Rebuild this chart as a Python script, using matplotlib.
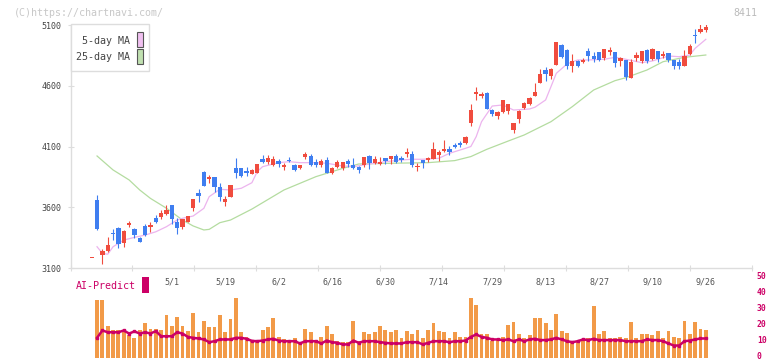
import numpy as np
import matplotlib
matplotlib.use("Agg")
import matplotlib.pyplot as plt
from matplotlib.patches import Rectangle

plt.rcParams['font.family'] = ['DejaVu Sans Mono']

# daily candles, 2025/4/9 .. 9/26
opens = [3182, 3660, 3207, 3240, 3385, 3430, 3305, 3450, 3420, 3350,
         3446, 3437, 3512, 3520, 3545, 3618, 3479, 3435, 3479, 3596,
         3720, 3893, 3833, 3849, 3767, 3645, 3687, 3920, 3923, 3898,
         3876, 3880, 3997, 3972, 3950, 3978, 3929, 3982, 3948, 3926,
         4013, 4022, 3970, 3948, 3989, 3880, 3929, 3926, 3984, 3948,
         3934, 3945, 4022, 3962, 3956, 4005, 3997, 4020, 4005, 4035,
         4038, 3929, 3989, 3989, 3997, 4030, 4063, 4080, 4112, 4131,
         4129, 4296, 4529, 4516, 4540, 4400, 4354, 4384, 4395, 4239,
         4329, 4420, 4450, 4516, 4625, 4727, 4683, 4774, 4935, 4894,
         4765, 4806, 4795, 4886, 4845, 4875, 4831, 4878, 4878, 4806,
         4812, 4664, 4831, 4806, 4894, 4820, 4886, 4847, 4869, 4815,
         4798, 4765, 4864, 5020, 5040, 5061]
highs = [3182, 3700, 3260, 3355, 3420, 3440, 3410, 3490, 3430, 3355,
         3460, 3478, 3540, 3578, 3618, 3620, 3508, 3505, 3530, 3670,
         3750, 3900, 3868, 3850, 3802, 3695, 3785, 4005, 3925, 3930,
         3915, 3958, 4027, 4030, 4020, 3995, 3967, 4010, 3955, 3950,
         4055, 4035, 3997, 4000, 4017, 3928, 3990, 3975, 3995, 4005,
         3940, 4015, 4033, 4020, 4010, 4008, 4022, 4040, 4020, 4090,
         4063, 3962, 3990, 4010, 4140, 4071, 4154, 4104, 4125, 4145,
         4184, 4450, 4593, 4551, 4549, 4406, 4392, 4483, 4452, 4294,
         4400, 4466, 4508, 4625, 4741, 4754, 4749, 4962, 4941, 4900,
         4859, 4815, 4831, 4908, 4875, 4876, 4903, 4916, 4880, 4834,
         4815, 4818, 4878, 4885, 4900, 4913, 4888, 4886, 4870, 4816,
         4822, 4894, 4944, 5067, 5106, 5108]
lows = [3182, 3410, 3130, 3235, 3330, 3265, 3275, 3435, 3350, 3310,
        3365, 3400, 3470, 3506, 3540, 3462, 3380, 3425, 3475, 3572,
        3646, 3775, 3797, 3728, 3652, 3613, 3685, 3838, 3845, 3857,
        3870, 3878, 3964, 3960, 3937, 3935, 3907, 3970, 3900, 3917,
        3997, 3940, 3930, 3935, 3878, 3872, 3920, 3910, 3935, 3915,
        3880, 3935, 3918, 3955, 3948, 3955, 3955, 3965, 3970, 4017,
        3934, 3901, 3923, 3975, 3995, 3984, 4058, 4030, 4085, 4100,
        4123, 4272, 4483, 4497, 4410, 4354, 4329, 4376, 4370, 4214,
        4296, 4412, 4444, 4516, 4620, 4639, 4658, 4772, 4831, 4738,
        4716, 4757, 4785, 4806, 4798, 4806, 4812, 4856, 4757, 4765,
        4650, 4660, 4806, 4785, 4785, 4812, 4798, 4826, 4798, 4735,
        4738, 4763, 4856, 4954, 5032, 5040]
closes = [3182, 3420, 3240, 3290, 3380, 3295, 3405, 3470, 3375, 3318,
          3372, 3455, 3482, 3553, 3580, 3503, 3430, 3503, 3528, 3668,
          3695, 3778, 3852, 3764, 3687, 3668, 3783, 3885, 3860, 3885,
          3907, 3956, 3972, 4005, 3995, 3956, 3948, 3978, 3907, 3948,
          4035, 3950, 3945, 3984, 3880, 3926, 3970, 3972, 3953, 3923,
          3910, 4013, 3962, 3997, 3975, 3980, 4020, 3970, 3990, 4055,
          3948, 3942, 3967, 4003, 4080, 4058, 4080, 4052, 4094, 4112,
          4178, 4400, 4549, 4532, 4412, 4365, 4384, 4483, 4450, 4294,
          4392, 4458, 4499, 4549, 4697, 4700, 4741, 4960, 4837, 4765,
          4806, 4765, 4812, 4847, 4820, 4812, 4902, 4894, 4790, 4826,
          4670, 4795, 4856, 4883, 4806, 4902, 4820, 4864, 4815, 4765,
          4760, 4845, 4927, 5007, 5067, 5086]

ma5_idx = [1, 2, 3, 4, 6, 8, 10, 12, 14, 16, 17, 19, 21, 22, 24, 26, 28, 30,
           31, 32, 35, 37, 39, 42, 44, 47, 49, 52, 55, 58, 60, 62, 65, 67, 70,
           71, 72, 73, 75, 77, 79, 82, 83, 85, 86, 87, 89, 91, 93, 96, 98, 100,
           103, 105, 108, 110, 112, 113, 115]
ma5_val = [3275, 3221, 3213, 3275, 3330, 3352, 3371, 3398, 3440, 3495, 3509,
           3528, 3591, 3687, 3748, 3742, 3756, 3802, 3893, 3934, 3967, 3975,
           3967, 3967, 3962, 3940, 3934, 3956, 3975, 3989, 3995, 3995, 4003,
           4044, 4085, 4100, 4181, 4304, 4433, 4442, 4400, 4409, 4423, 4483,
           4592, 4702, 4779, 4812, 4812, 4818, 4834, 4818, 4790, 4804, 4845,
           4839, 4853, 4908, 4982]

ma25_idx = [1, 4, 7, 9, 11, 14, 17, 19, 21, 22, 24, 26, 30, 36, 42, 47, 50,
            56, 63, 68, 71, 74, 78, 81, 86, 90, 94, 98, 100, 104, 107, 111, 115]
ma25_val = [4022, 3907, 3825, 3742, 3673, 3592, 3495, 3446, 3413, 3418, 3473,
            3495, 3585, 3742, 3852, 3920, 3956, 3962, 3967, 3984, 4017, 4077,
            4145, 4195, 4304, 4428, 4565, 4642, 4666, 4730, 4798, 4834, 4853]

# lower panel, from candle 1 on
bars = [36.1, 36.1, 20.3, 17.4, 17.4, 17.2, 14.1, 12.2, 17.4, 21.6,
        18.4, 18.4, 17.8, 26.6, 20.3, 25.9, 19.7, 16.8, 28.0, 16.1,
        23.4, 19.1, 19.1, 26.6, 16.1, 24.1, 37.8, 16.1, 13.4, 10.9,
        10.9, 17.4, 19.1, 24.7, 13.4, 11.6, 10.9, 12.2, 9.7, 18.4,
        16.1, 9.7, 13.4, 20.3, 15.3, 10.9, 10.3, 9.7, 23.4, 10.9,
        16.1, 15.3, 16.1, 19.7, 17.4, 16.1, 17.8, 12.8, 16.8, 15.3,
        17.4, 12.8, 17.8, 21.6, 16.8, 16.1, 12.8, 16.1, 13.4, 13.4,
        37.2, 33.4, 14.7, 15.3, 10.9, 11.6, 13.0, 20.9, 22.8, 15.3,
        12.2, 14.1, 24.7, 24.7, 21.6, 17.2, 27.8, 16.8, 15.9, 10.9,
        10.9, 11.6, 12.2, 32.2, 14.7, 16.8, 12.2, 12.2, 13.4, 12.8,
        22.2, 12.8, 14.7, 14.7, 14.1, 16.6, 12.8, 16.6, 13.4, 12.2,
        23.4, 14.7, 22.2, 18.4, 17.8]
ai_pred = [12.6, 17.2, 16.1, 16.1, 16.1, 17.2, 15.3, 16.6, 15.3, 16.1,
           15.3, 16.8, 13.6, 13.6, 13.6, 16.1, 15.3, 13.2, 12.6, 12.2,
           11.6, 9.9, 10.5, 11.6, 11.6, 11.6, 12.6, 12.6, 12.0, 10.7,
           10.5, 10.9, 11.6, 12.0, 10.9, 10.5, 10.5, 10.5, 9.1, 10.5,
           10.5, 10.5, 9.1, 10.9, 9.9, 9.5, 8.5, 8.5, 10.9, 9.5,
           10.5, 10.5, 10.5, 9.9, 9.5, 9.1, 9.1, 9.1, 9.9, 9.9,
           9.9, 8.5, 9.5, 10.5, 10.5, 10.5, 9.9, 10.5, 10.5, 10.9,
           13.2, 14.7, 13.2, 12.6, 11.6, 11.6, 11.2, 11.6, 10.5, 11.6,
           10.5, 11.6, 12.0, 11.2, 11.2, 11.6, 12.6, 11.6, 10.5, 9.9,
           10.5, 11.6, 11.2, 12.0, 11.2, 11.2, 11.2, 11.2, 11.2, 10.5,
           10.5, 10.5, 10.5, 11.6, 11.2, 11.2, 10.5, 9.1, 7.8, 7.8,
           10.5, 10.9, 11.6, 12.2, 12.2]

date_idx = [15, 25, 35, 45, 55, 65, 75, 85, 95, 105, 115]
date_labels = ['5/1', '5/19', '6/2', '6/16', '6/30', '7/14', '7/29',
               '8/13', '8/27', '9/10', '9/26']
price_ticks = [3100, 3600, 4100, 4600, 5100]
ai_ticks = [0, 10, 20, 30, 40, 50]

W, H = 772, 361
RED, BLUE = '#f04c3e', '#3f7ef0'
GRID = '#dddddd'
CRIMSON = '#cc0066'
x0, x1 = -3.97, 123.65

fig = plt.figure(figsize=(W / 100, H / 100), dpi=100)

# --- price panel
ax = fig.add_axes([70.5 / W, 1 - 268 / H, 681.5 / W, 243 / H])
n = len(closes)
idx = np.arange(n)
o = np.array(opens); c = np.array(closes)
cols = [RED if cc >= oo else BLUE for oo, cc in zip(o, c)]
ax.plot(ma25_idx, ma25_val, color='#b4dca0', lw=0.9, zorder=1)
ax.plot(ma5_idx, ma5_val, color='#ecb4ee', lw=0.9, zorder=1)
ax.vlines(idx, lows, highs, colors=cols, lw=0.8, zorder=2)
ax.bar(idx, np.maximum(np.abs(c - o), 8), bottom=np.minimum(o, c),
       width=0.8, color=cols, lw=0, zorder=3)

ax.set_xlim(x0, x1)
ax.set_ylim(3100, 5100)
for s in ['top', 'right']:
    ax.spines[s].set_visible(False)
for s in ['left', 'bottom']:
    ax.spines[s].set_color(GRID)
    ax.spines[s].set_linewidth(1)
ax.set_yticks(price_ticks, labels=[str(p) for p in price_ticks])
ax.tick_params(axis='y', direction='inout', length=5, width=0.8, color=GRID,
               labelsize=6, labelcolor='#444444', pad=4)
ax.set_xticks(date_idx, labels=date_labels)
ax.set_xticks(np.linspace(x0, x1, 12), minor=True)
ax.tick_params(axis='x', which='major', length=0, pad=7, labelsize=6,
               labelcolor='#555555')
ax.tick_params(axis='x', which='minor', direction='inout', length=5,
               width=0.8, color=GRID)

# --- AI-Predict panel
ax2 = fig.add_axes([70.5 / W, 1 - 358 / H, 681.5 / W, 80 / H])
ax2.patch.set_visible(False)
bi = np.arange(1, len(bars) + 1)
ax2.bar(bi, bars, width=0.72, color='#f29a48', lw=0)
ax2.plot(bi, ai_pred, color=CRIMSON, lw=1.8, marker='s', ms=2)
ax2.set_xlim(x0, x1)
ax2.set_ylim(0, 50)
for s in ax2.spines.values():
    s.set_visible(False)
ax2.set_xticks([])
ax2.set_yticks([])
for v in ai_ticks:
    ax2.annotate(str(v), xy=(1, v), xycoords=('axes fraction', 'data'),
                 xytext=(3.5, 1.2), textcoords='offset points',
                 fontsize=5.8, fontweight='bold', color=CRIMSON,
                 va='center', annotation_clip=False)

# --- decorations in pixel space
ov = fig.add_axes([0, 0, 1, 1])
ov.set_xlim(0, W)
ov.set_ylim(H, 0)
ov.axis('off')
ov.text(14, 12.5, '(C)https://chartnavi.com/', fontsize=7.2, color='#c8c8c8',
        va='center')
ov.text(757, 12.5, '8411', fontsize=7.2, color='#bbbbbb', va='center', ha='right')
ov.add_patch(Rectangle((70.5, 24), 78, 47, fc='white', ec=GRID, lw=1))
ov.text(129.5, 41, '5-day MA', fontsize=7.2, color='#444444', ha='right', va='center')
ov.text(129.5, 57, '25-day MA', fontsize=7.2, color='#444444', ha='right', va='center')
ov.add_patch(Rectangle((136.5, 31.5), 6, 15, fc='#f0c0f0', ec='#555555', lw=0.8))
ov.add_patch(Rectangle((136.5, 48.5), 6, 15, fc='#c0e0b0', ec='#555555', lw=0.8))
ov.text(76, 286, 'AI-Predict', fontsize=7.2, color=CRIMSON, va='center')
ov.add_patch(Rectangle((142.3, 277.3), 6.4, 15.4, fc=CRIMSON, lw=0))

fig.savefig('out.png', dpi=100)
